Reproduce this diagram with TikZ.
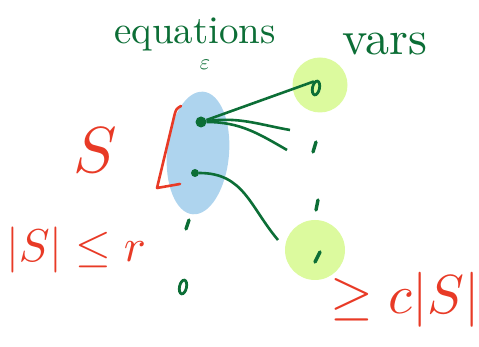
\documentclass[tikz,border=0pt]{standalone}
\usepackage{tikz}
\usetikzlibrary{shapes.geometric, positioning}

\definecolor{pengreen}{RGB}{12,110,54}
\definecolor{penred}{RGB}{232,58,38}
\definecolor{setblue}{RGB}{174,212,238}
\definecolor{varyellow}{RGB}{220,250,158}

\begin{document}
\begin{tikzpicture}[x=1pt,y=1pt,auto]
  \tikzstyle{every node}=[inner sep=0pt]
  \tikzstyle{green text}=[text=pengreen]
  \tikzstyle{red text}=[text=penred]
  \tikzstyle{vertex}=[circle, fill=pengreen, minimum size=8pt]
  \tikzstyle{hollow}=[ellipse, draw=pengreen, line width=2.8pt, minimum width=7pt, minimum height=14pt, rotate=-12]
  \tikzstyle{tick}=[draw=pengreen, line width=3.4pt, line cap=round]
  \useasboundingbox (0,0) rectangle (479,347);
  % the set of equations and the two variable blobs
  \node[ellipse, fill=setblue, minimum width=62pt, minimum height=123pt, rotate=-5] (eqset) at (198,194) {};
  \node[circle, fill=varyellow, minimum size=55pt] (var1) at (320,262) {};
  \node[circle, fill=varyellow, minimum size=60pt] (var2) at (315,97) {};
  % vertices
  \node[vertex, minimum size=11pt] (u) at (201,225) {};
  \node[vertex] (w) at (195,174) {};
  \node[hollow] (v1) at (316,259) {};
  \node[hollow] (q) at (183,60) {};
  \coordinate (e1) at (290,217);
  \coordinate (e2) at (287,197);
  \coordinate (e3) at (278,107);
  \path[tick] (189,127) -- (186,118);
  \path[tick] (316,205) -- (313,195);
  \path[tick] (318,147) -- (316,137);
  \path[tick] (320,95) -- (315,85);
  % connectors
  \path[draw=pengreen, line width=2.6pt]
    (u) edge (v1.north west)
    (u) edge[out=8, in=170] (e1)
    (u) edge[out=0, in=150] (e2)
    (w) edge[out=0, in=130, looseness=1.1] (e3);
  % bracket round S
  \draw[penred, line width=2.6pt, line cap=round, line join=round]
    (181,241) .. controls (176,238) .. (174,230) -- (157,159) -- (180,163);
  % labels
  \node[green text, scale=3.9] (eqlabel) at (195,313) {equations};
  \node[green text, scale=2.2] (eps) at (205,282) {$\varepsilon$};
  \node[green text, scale=4.8] (varlabel) at (385,303) {vars};
  \node[red text, scale=6.5] (slabel) at (95,197) {$S$};
  \node[red text, scale=4.6] (sizelabel) at (76,97) {$|S|\le r$};
  \node[red text, scale=5.5] (expand) at (405,47) {$\ge c|S|$};
\end{tikzpicture}
\end{document}
